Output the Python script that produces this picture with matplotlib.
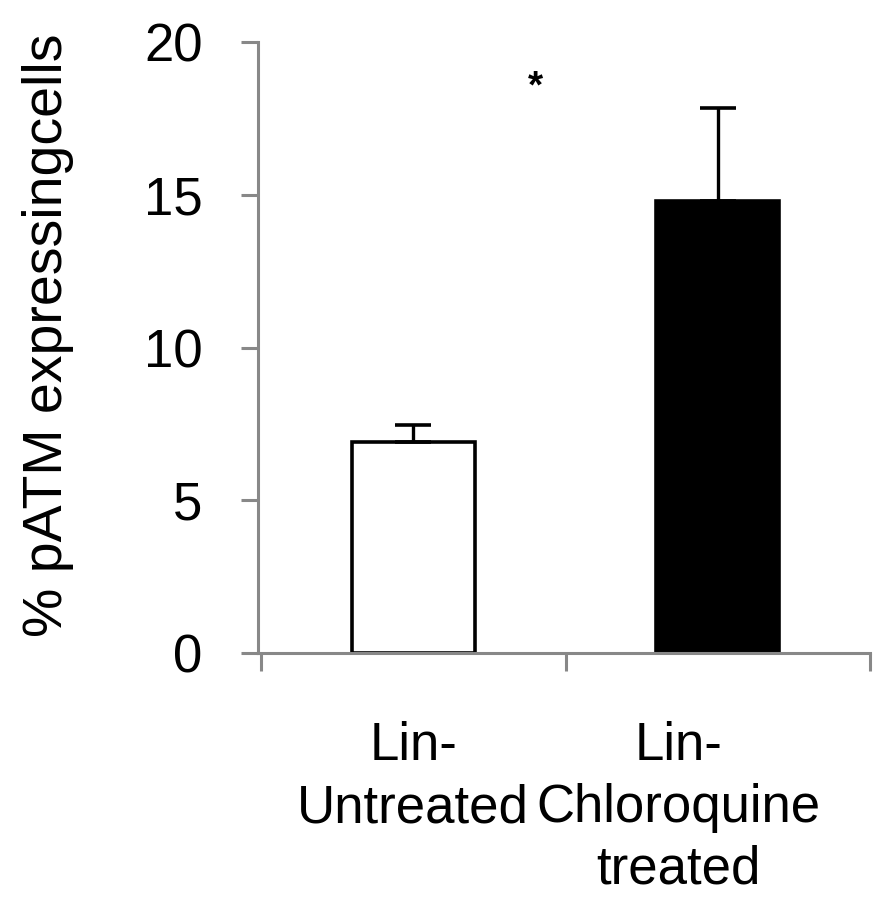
import matplotlib.pyplot as plt
from matplotlib import transforms

plt.rcParams['font.family'] = ['Liberation Sans', 'DejaVu Sans']

groups = ["Lin-\nUntreated", "Lin-\nChloroquine\ntreated"]
label_x = [0.0, 0.87]
values = [6.9, 14.8]
errors = [0.55, 3.05]
colors = ["white", "black"]
yticks = [0, 5, 10, 15, 20]
star_x, star_y = 0.40, 18.5

fig = plt.figure(figsize=(8.79, 8.99), dpi=100)
ax = fig.add_axes([258 / 879, (899 - 653) / 899, 612 / 879, 611 / 899])

x = list(range(len(values)))
ax.bar(x, values, width=0.405, color=colors, edgecolor="black", linewidth=2.6, zorder=2)
ax.errorbar(x, values, yerr=[[0] * len(errors), errors], fmt="none",
            ecolor="black", elinewidth=2.4, capsize=13, capthick=2.6, zorder=3)

ax.set_xlim(-0.51, 1.5)
ax.set_ylim(0, 20)
ax.set_yticks(yticks)
ax.set_yticklabels([str(t) for t in yticks])
ax.set_xticks([-0.5, 0.5, 1.5])
ax.set_xticklabels([])

for s in ["top", "right"]:
    ax.spines[s].set_visible(False)
for s in ["left", "bottom"]:
    ax.spines[s].set_color("#888888")
    ax.spines[s].set_linewidth(2.2)

ax.tick_params(axis="y", direction="out", length=12, width=2.2, color="#888888",
               pad=28, labelsize=38)
ax.tick_params(axis="x", direction="out", length=13, width=2.2, color="#888888")

trans = transforms.blended_transform_factory(ax.transData, ax.transAxes)
for lx, g in zip(label_x, groups):
    ax.text(lx, -0.112, g, transform=trans, ha="center", va="top",
            fontsize=38, linespacing=1.3, multialignment="center")

ax.text(star_x, star_y, "*", ha="center", va="center", fontsize=28, fontweight="bold")

ax.set_ylabel("% pATM expressingcells", fontsize=40)
ax.yaxis.set_label_coords(-0.30, 0.52)

fig.savefig("out.png", dpi=100)
